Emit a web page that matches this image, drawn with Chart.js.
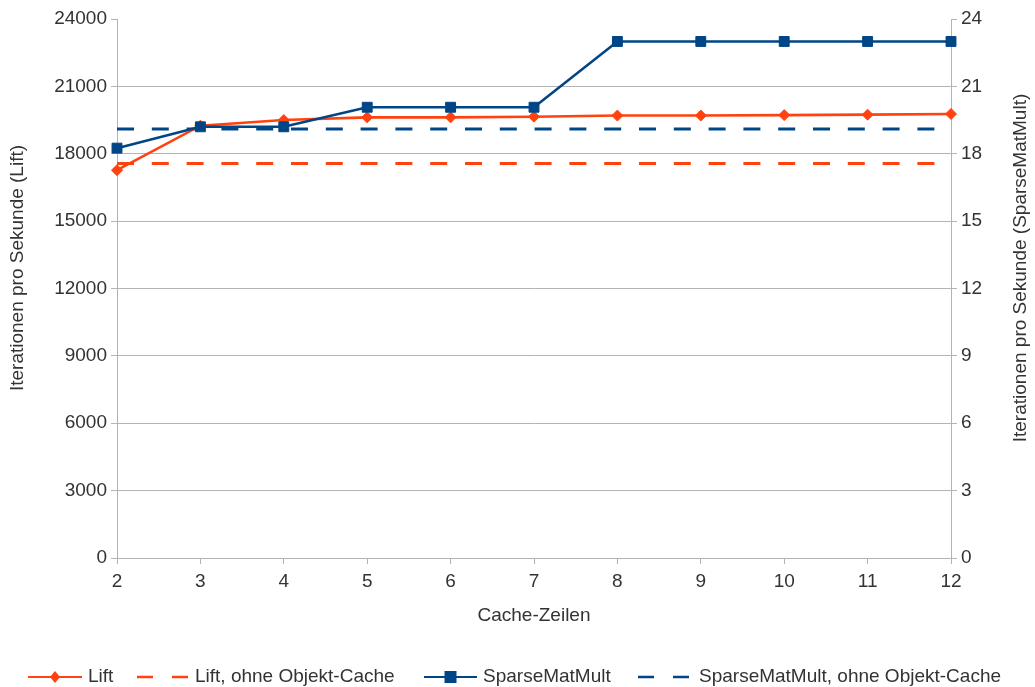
<!DOCTYPE html>
<html>
<head>
<meta charset="utf-8">
<script src="https://cdn.jsdelivr.net/npm/chart.js@4/dist/chart.umd.min.js"></script>
<style>
  html, body { margin: 0; padding: 0; background: #fff; }
  #wrap { width: 1035px; height: 687px; position: relative; }
</style>
</head>
<body>
<div id="wrap"><canvas id="cacheChart"></canvas></div>
<script>
// Cache-Zeilen on the x axis
const cacheLines = ["2", "3", "4", "5", "6", "7", "8", "9", "10", "11", "12"];

// Lift, iterations per second (left axis)
const liftValues = [17270, 19250, 19500, 19620, 19620, 19650, 19700, 19700, 19720, 19740, 19770];
const liftNoCache = 17570;

// SparseMatMult, iterations per second (right axis)
const sparseValues = [18.25, 19.2, 19.2, 20.07, 20.07, 20.07, 23.0, 23.0, 23.0, 23.0, 23.0];
const sparseNoCache = 19.1;

const leftTicks = [0, 3000, 6000, 9000, 12000, 15000, 18000, 21000, 24000];
const rightTicks = [0, 3, 6, 9, 12, 15, 18, 21, 24];

const ORANGE = "#ff420e";
const BLUE = "#004586";
const GRID = "#b3b3b3";
const TEXT = "#333333";
const FONT = "'Liberation Sans', Arial, sans-serif";

// axis titles and the legend row are painted after the chart
const extrasPlugin = {
  id: "extras",
  afterDraw(chart) {
    const ctx = chart.ctx;
    const area = chart.chartArea;
    ctx.save();
    ctx.fillStyle = TEXT;
    ctx.font = "19px " + FONT;
    ctx.textAlign = "center";
    ctx.textBaseline = "middle";

    ctx.fillText("Cache-Zeilen", (area.left + area.right) / 2, 616);

    ctx.save();
    ctx.translate(18, 268);
    ctx.rotate(-Math.PI / 2);
    ctx.fillText("Iterationen pro Sekunde (Lift)", 0, 0);
    ctx.restore();

    ctx.save();
    ctx.translate(1021, 268);
    ctx.rotate(-Math.PI / 2);
    ctx.fillText("Iterationen pro Sekunde (SparseMatMult)", 0, 0);
    ctx.restore();

    // legend
    const ly = 677;
    const items = [
      { ds: 0, x0: 28, x1: 82, tx: 88 },
      { ds: 1, x0: 137, x1: 188, tx: 195 },
      { ds: 2, x0: 424, x1: 477, tx: 483 },
      { ds: 3, x0: 638, x1: 689, tx: 699 }
    ];
    items.forEach(it => {
      const ds = chart.data.datasets[it.ds];
      ctx.strokeStyle = ds.borderColor;
      ctx.fillStyle = ds.borderColor;
      if (ds.borderDash) {
        ctx.lineWidth = 2.5;
        ctx.beginPath();
        ctx.moveTo(it.x0, ly); ctx.lineTo(it.x0 + 16, ly);
        ctx.moveTo(it.x1 - 16, ly); ctx.lineTo(it.x1, ly);
        ctx.stroke();
      } else {
        ctx.lineWidth = 2;
        ctx.beginPath();
        ctx.moveTo(it.x0, ly); ctx.lineTo(it.x1, ly);
        ctx.stroke();
        const cx = (it.x0 + it.x1) / 2;
        ctx.beginPath();
        if (ds.pointStyle === "rectRot") {
          ctx.moveTo(cx, ly - 6); ctx.lineTo(cx + 5, ly);
          ctx.lineTo(cx, ly + 6); ctx.lineTo(cx - 5, ly);
          ctx.closePath();
        } else {
          ctx.rect(cx - 6, ly - 6, 12, 12);
        }
        ctx.fill();
      }
      ctx.fillStyle = TEXT;
      ctx.textAlign = "left";
      ctx.fillText(ds.label, it.tx, ly);
    });
    ctx.restore();
  }
};

const flat = v => cacheLines.map(() => v);
const plain = v => String(v);

new Chart(document.getElementById("cacheChart"), {
  type: "line",
  data: {
    labels: cacheLines,
    datasets: [
      {
        label: "Lift",
        data: liftValues,
        yAxisID: "y",
        borderColor: ORANGE,
        backgroundColor: ORANGE,
        borderWidth: 2.6,
        pointStyle: "rectRot",
        pointRadius: 5.5,
        pointBorderWidth: 1,
        tension: 0,
        order: 2
      },
      {
        label: "Lift, ohne Objekt-Cache",
        data: flat(liftNoCache),
        yAxisID: "y",
        borderColor: ORANGE,
        backgroundColor: ORANGE,
        borderWidth: 3,
        borderDash: [17, 17.8],
        pointRadius: 0,
        order: 4
      },
      {
        label: "SparseMatMult",
        data: sparseValues,
        yAxisID: "y1",
        borderColor: BLUE,
        backgroundColor: BLUE,
        borderWidth: 2.6,
        pointStyle: "rect",
        pointRadius: 7,
        pointBorderWidth: 1,
        tension: 0,
        order: 1
      },
      {
        label: "SparseMatMult, ohne Objekt-Cache",
        data: flat(sparseNoCache),
        yAxisID: "y1",
        borderColor: BLUE,
        backgroundColor: BLUE,
        borderWidth: 3,
        borderDash: [17, 17.8],
        pointRadius: 0,
        order: 3
      }
    ]
  },
  options: {
    responsive: true,
    maintainAspectRatio: false,
    animation: false,
    layout: { padding: { top: 19, left: 0, right: 0, bottom: 0 } },
    plugins: {
      legend: { display: false },
      tooltip: { enabled: false }
    },
    scales: {
      x: {
        type: "category",
        offset: false,
        afterFit(scale) { scale.height = 129; },
        grid: { drawOnChartArea: false, drawTicks: true, tickLength: 6, tickColor: GRID },
        border: { color: GRID, width: 1 },
        ticks: { color: TEXT, font: { family: FONT, size: 19 }, padding: 6, maxRotation: 0, autoSkip: false }
      },
      y: {
        position: "left",
        min: 0,
        max: 24000,
        afterFit(scale) { scale.width = 117; },
        afterBuildTicks(scale) { scale.ticks = leftTicks.map(v => ({ value: v })); },
        grid: {
          color: c => (c.tick && c.tick.value === 24000 ? "rgba(0,0,0,0)" : GRID),
          tickColor: GRID,
          tickLength: 6
        },
        border: { color: GRID, width: 1 },
        ticks: { color: TEXT, font: { family: FONT, size: 19 }, padding: 4, callback: plain }
      },
      y1: {
        position: "right",
        min: 0,
        max: 24,
        afterFit(scale) { scale.width = 84; },
        afterBuildTicks(scale) { scale.ticks = rightTicks.map(v => ({ value: v })); },
        grid: { drawOnChartArea: false, tickColor: GRID, tickLength: 6 },
        border: { color: GRID, width: 1 },
        ticks: { color: TEXT, font: { family: FONT, size: 19 }, padding: 4, callback: plain }
      }
    }
  },
  plugins: [extrasPlugin]
});
</script>
</body>
</html>
